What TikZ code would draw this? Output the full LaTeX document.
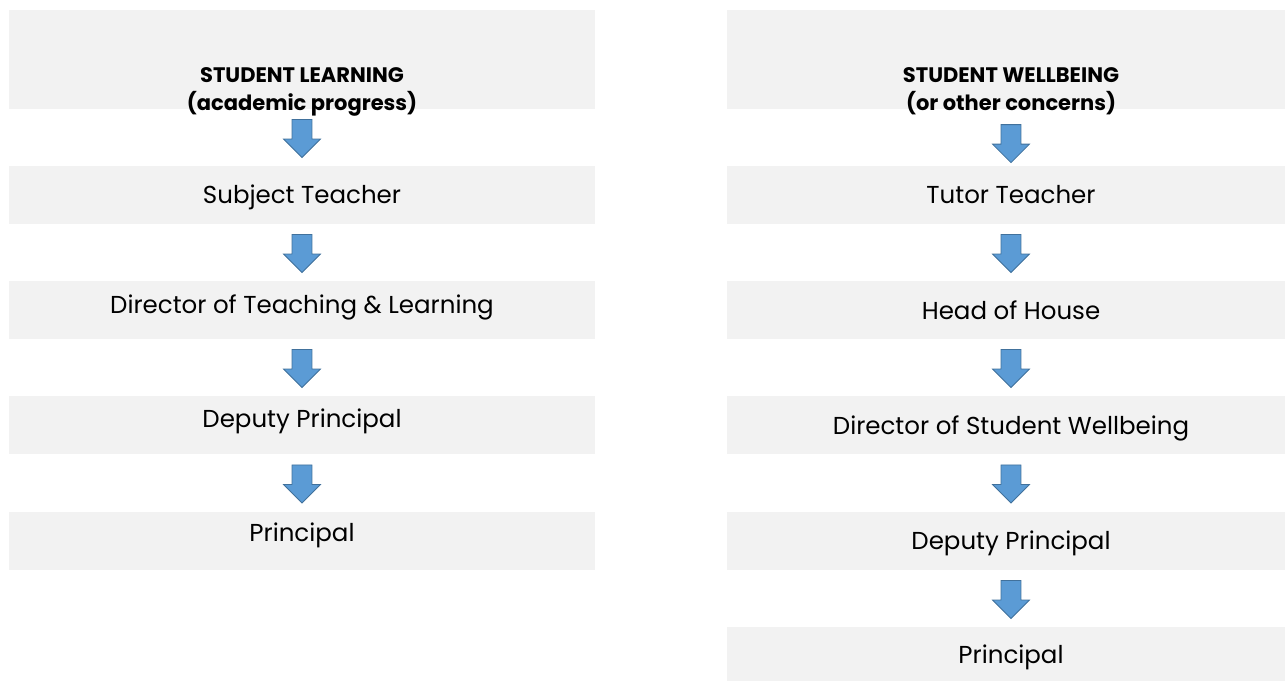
\documentclass[tikz,border=0pt]{standalone}
\usepackage{fontspec}
\setmainfont{Poppins}
\usetikzlibrary{shapes.arrows}
\definecolor{boxgray}{HTML}{F2F2F2}
\definecolor{arrowfill}{HTML}{5B9BD5}
\definecolor{arrowline}{HTML}{41719C}
\begin{document}
\begin{tikzpicture}[x=1pt,y=-1pt,
    box/.style={fill=boxgray,minimum height=58pt,inner sep=0pt},
    lbox/.style={box,minimum width=586pt},
    rbox/.style={box,minimum width=568pt},
    boxtext/.style={inner sep=0pt,text height=17.5pt,text depth=5.5pt,font=\fontsize{24.5}{28}\selectfont},
    titletext/.style={align=center,inner sep=0pt,font=\fontsize{21}{28}\selectfont\bfseries},
    downarr/.style={single arrow,rotate=-90,fill=arrowfill,draw=arrowline,line width=0.8pt,
        minimum height=38pt,minimum width=37pt,single arrow head extend=8.5pt,inner sep=9.5pt}]
    \clip (0,0) rectangle (1285,680);
    % title boxes
    \node[lbox,minimum height=99pt] (LT) at (302,59.5) {};
    \node[rbox,minimum height=99pt] (RT) at (1011,59.5) {};
    \node[titletext] (LTtxt) at (302,91.5) {STUDENT LEARNING\\(academic progress)};
    \node[titletext] (RTtxt) at (1011,91.5) {STUDENT WELLBEING\\(or other concerns)};
    % left column: box y / text y
    \foreach \n/\y/\ty/\mname in {1/195/197/Subject Teacher,2/310/307/Director of Teaching \& Learning,3/425/421/Deputy Principal,4/541/535/Principal}{
        \node[lbox] (L\n) at (302,\y) {};
        \node[boxtext] (L\n txt) at (302,\ty) {\mname};
    }
    % right column
    \foreach \n/\y/\ty/\mname in {1/195/197/Tutor Teacher,2/310/313/Head of House,3/425/428/Director of Student Wellbeing,4/541/543/Deputy Principal,5/656/657/Principal}{
        \node[rbox] (R\n) at (1011,\y) {};
        \node[boxtext] (R\n txt) at (1011,\ty) {\mname};
    }
    % arrows
    \foreach \a/\b/\p in {LT/L1/.43,L1/L2/.43,L2/L3/.43,L3/L4/.43,RT/R1/.52,R1/R2/.43,R2/R3/.43,R3/R4/.43,R4/R5/.43}
        \path (\a.south) -- (\b.north) node[downarr,pos=\p] {};
\end{tikzpicture}
\end{document}
